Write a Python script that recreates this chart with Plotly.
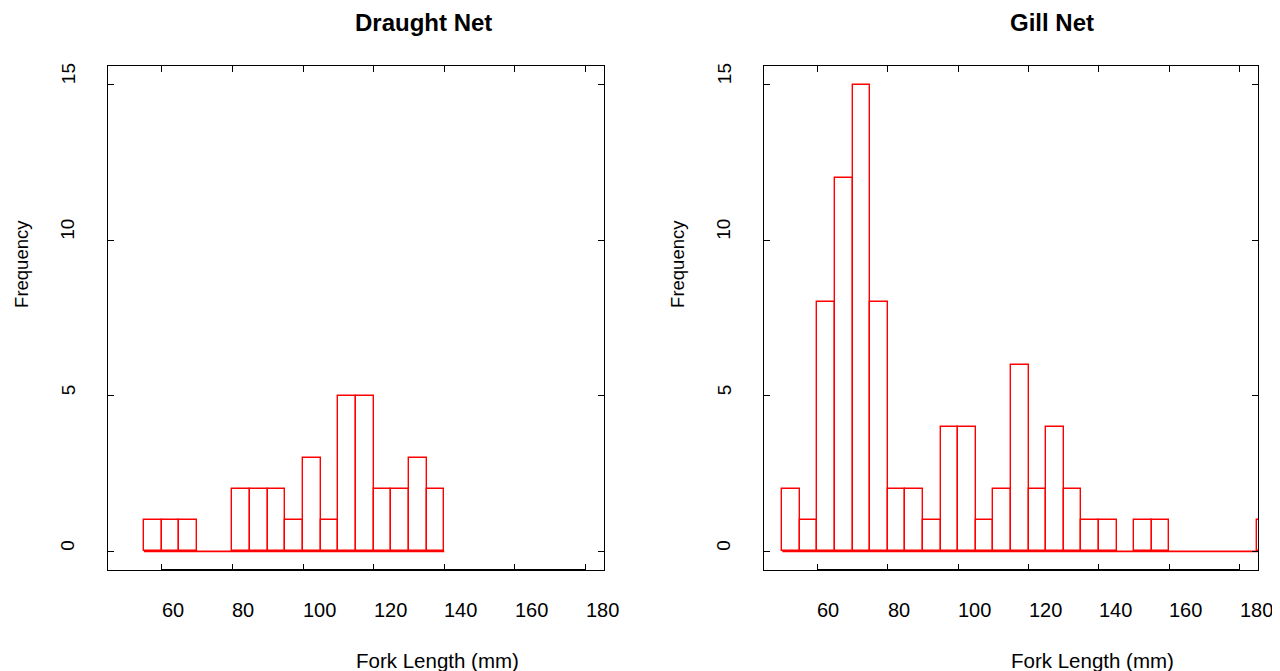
import plotly.graph_objects as go

# ---- data ----
bin_width = 5
draught_edges_start = 55
draught_counts = [1, 1, 1, 0, 0, 2, 2, 2, 1, 3, 1, 5, 5, 2, 2, 3, 2]
gill_edges_start = 50
gill_counts = [2, 1, 8, 12, 15, 8, 2, 2, 1, 4, 4, 1, 2, 6, 2, 4, 2, 1, 1, 0, 1, 1,
               0, 0, 0, 0, 0, 1]
titles = ["Draught Net", "Gill Net"]
x_ticks = [60, 80, 100, 120, 140, 160, 180]
y_ticks = [0, 5, 10, 15]
x_label = "Fork Length (mm)"
y_label = "Frequency"
xlim = [50, 180]
ylim = [0, 15]

FONT = "Liberation Sans, Arial, Helvetica, sans-serif"
RED = "#ff0000"

# page body has an 8px default margin: size the figure to fit the window
OFF = 8
W, H = 1280 - OFF, 671 - OFF

def px(x):
    return (x - OFF) / W

def py(y):
    return 1 - (y - OFF) / H

def ext(lim, f=0.04):
    w = lim[1] - lim[0]
    return [lim[0] - f * w, lim[1] + f * w]

fig = go.Figure()
panels = [
    (draught_edges_start, draught_counts, "x", "y", [px(108), px(604)]),
    (gill_edges_start, gill_counts, "x2", "y2", [px(764), px(1258)]),
]
ydom = [py(570), py(66)]

annotations = []
for i, (start, counts, xa, ya, xdom) in enumerate(panels):
    centers = [start + bin_width * (k + 0.5) for k in range(len(counts))]
    xs = [c for c, n in zip(centers, counts) if n > 0]
    ys = [n for n in counts if n > 0]
    fig.add_trace(go.Bar(x=xs, y=ys, width=bin_width, xaxis=xa, yaxis=ya,
                         marker=dict(color="rgba(0,0,0,0)", line=dict(color=RED, width=1.4)),
                         showlegend=False, hoverinfo="x+y"))
    # baseline (covers empty bins)
    fig.add_trace(go.Scatter(x=[start, start + bin_width * len(counts)], y=[0, 0],
                             mode="lines", line=dict(color=RED, width=1.6),
                             xaxis=xa, yaxis=ya, showlegend=False, hoverinfo="skip"))
    # heavier axis line between first and last tick
    fig.add_trace(go.Scatter(x=[x_ticks[0], x_ticks[-1]], y=[ext(ylim)[0]] * 2,
                             mode="lines", line=dict(color="black", width=2),
                             xaxis=xa, yaxis=ya, showlegend=False, hoverinfo="skip",
                             cliponaxis=False))
    suffix = "" if i == 0 else "2"
    fig.update_layout(**{
        "xaxis" + suffix: dict(domain=xdom, range=ext(xlim), tickvals=x_ticks,
                               showticklabels=False, ticks="inside", ticklen=6,
                               tickcolor="black", showline=True, mirror="ticks",
                               linecolor="black", linewidth=1, showgrid=False,
                               zeroline=False, anchor=ya),
        "yaxis" + suffix: dict(domain=ydom, range=ext(ylim), tickvals=y_ticks,
                               showticklabels=False, ticks="inside", ticklen=6,
                               tickcolor="black", showline=True, mirror="ticks",
                               linecolor="black", linewidth=1, showgrid=False,
                               zeroline=False, anchor=xa),
    })
    xd = "x domain" if i == 0 else "x2 domain"
    yd = "y domain" if i == 0 else "y2 domain"
    # title (left-anchored at panel centre, as in the original device output)
    annotations.append(dict(text="<b>" + titles[i] + "</b>", xref=xd, x=0.5, xanchor="left",
                            xshift=-2, yref="paper", y=py(22), yanchor="middle",
                            borderpad=0, showarrow=False,
                            font=dict(family=FONT, size=24, color="black")))
    annotations.append(dict(text=x_label, xref=xd, x=0.5, xanchor="left", xshift=-2,
                            yref="paper", y=py(660), yanchor="middle", showarrow=False,
                            font=dict(family=FONT, size=20.5, color="black")))
    annotations.append(dict(text=y_label, xref=xd, x=0, xshift=-86, xanchor="center",
                            yref=yd, y=0.52, yanchor="bottom", yshift=-2, textangle=-90,
                            showarrow=False,
                            font=dict(family=FONT, size=18.5, color="black")))
    for t in x_ticks:
        annotations.append(dict(text=str(t), xref=xa, x=t, xanchor="left",
                                yref="paper", y=py(610), yanchor="middle",
                                showarrow=False, xshift=-2,
                                font=dict(family=FONT, size=20, color="black")))
    for t in y_ticks:
        annotations.append(dict(text=str(t), xref=xd, x=0, xshift=-40, xanchor="center",
                                yref=ya, y=t, yanchor="bottom", yshift=-2, textangle=-90,
                                showarrow=False,
                                font=dict(family=FONT, size=19, color="black")))

fig.update_layout(width=W, height=H, margin=dict(l=0, r=0, t=0, b=0),
                  paper_bgcolor="white", plot_bgcolor="white",
                  annotations=annotations, barmode="overlay", bargap=0,
                  font=dict(family=FONT, color="black"))
fig.write_html("out.html")
